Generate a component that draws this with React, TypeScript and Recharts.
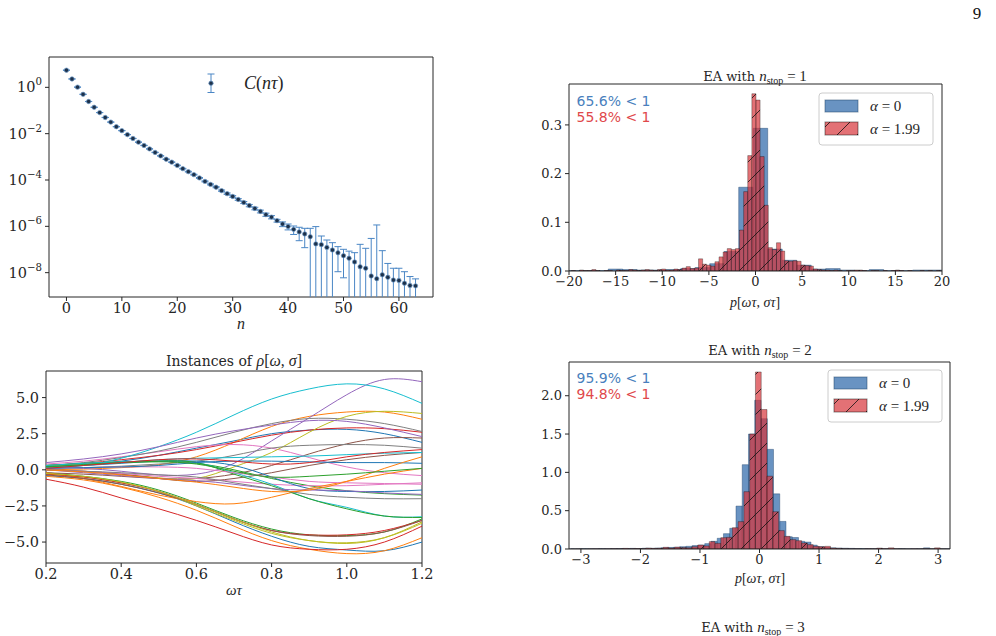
import React from 'react';
import {
  ScatterChart,
  Scatter,
  ErrorBar,
  LineChart,
  Line,
  ComposedChart,
  XAxis,
  YAxis,
  ReferenceArea,
} from 'recharts';

const SERIF = '"DejaVu Serif", serif';
const MATH = '"Liberation Serif", "DejaVu Serif", serif';
const SANS = '"DejaVu Sans", sans-serif';
const INK = '#262626';
const MINUS = '\u2212';
const TAB10 = ['#1f77b4', '#ff7f0e', '#2ca02c', '#d62728', '#9467bd', '#8c564b', '#e377c2', '#7f7f7f', '#bcbd22', '#17becf'];
const BLUE = '#2f6aab';
const BLUE_EDGE = '#1c3f66';
const RED = '#d8353a';

// ---------- C(n tau): mean and symmetric error for n = 0..63
const corrN = Array.from({ length: 64 }, (_, i) => i);
const corrValues = [
  5.5, 2.3, 1.02, 0.5, 0.245, 0.138, 0.0813, 0.05, 0.0316, 0.02,
  0.0135, 9.1e-3, 6.2e-3, 4.3e-3, 3.1e-3, 2.2e-3, 1.55e-3, 1.1e-3, 7.9e-4, 5.9e-4,
  4.27e-4, 3.09e-4, 2.29e-4, 1.7e-4, 1.23e-4, 8.7e-5, 6.46e-5, 4.9e-5, 3.47e-5, 2.57e-5,
  1.95e-5, 1.45e-5, 1.07e-5, 7.9e-6, 5.9e-6, 4.4e-6, 3.2e-6, 2.5e-6, 1.76e-6, 1.26e-6,
  9.8e-7, 7.4e-7, 5.75e-7, 4.7e-7, 3.55e-7, 1.74e-7, 1.62e-7, 1.23e-7, 9.5e-8, 7.2e-8,
  5.4e-8, 4.2e-8, 2.9e-8, 1.8e-8, 1.55e-8, 7.2e-9, 5.5e-9, 8.1e-9, 6.3e-9, 4.8e-9,
  4.6e-9, 3.5e-9, 2.8e-9, 2.7e-9,
];
const corrErrors = [
  0.02, 0.01, 0.005, 0.003, 0.0015, 0.001, 6e-4, 4e-4, 3e-4, 2e-4,
  1.5e-4, 1.1e-4, 8e-5, 6e-5, 5e-5, 4e-5, 3e-5, 2.4e-5, 1.9e-5, 1.5e-5,
  1.2e-5, 1e-5, 8e-6, 6.5e-6, 5.2e-6, 4.2e-6, 3.4e-6, 2.8e-6, 2.3e-6, 1.9e-6,
  1.6e-6, 1.3e-6, 1.1e-6, 9e-7, 7.5e-7, 6e-7, 5e-7, 4e-7, 2.4e-7, 2.9e-7,
  2.8e-7, 2.95e-7, 3.35e-7, 3.5e-7, 4.65e-7, 8.0e-7, 2.2e-7, 1.34e-7, 1.02e-7, 6.1e-8,
  4.8e-8, 4.3e-8, 4.4e-8, 1.49e-7, 9.7e-8, 2.93e-7, 1.14e-6, 8.1e-8, 1.87e-8, 1.07e-8,
  1.09e-8, 7.5e-9, 4.0e-9, 2.7e-9,
];

// ---------- instances of rho[omega, sigma] sampled on omega*tau
const omegaTau = [0.2, 0.3, 0.4, 0.5, 0.6, 0.7, 0.8, 0.9, 1.0, 1.1, 1.2];
const rhoInstances = [
  [0.2, 0.35, 0.6, 1.0, 1.5, 2.0, 2.5, 2.75, 2.8, 2.5, 1.9],
  [0.0, 0.05, 0.15, 0.35, 0.9, 1.9, 3.0, 3.7, 4.0, 4.0, 3.5],
  [-0.2, -0.45, -0.8, -1.4, -2.3, -3.3, -4.1, -4.5, -4.55, -4.3, -3.4],
  [0.3, 0.45, 0.7, 1.0, 1.4, 1.9, 2.4, 2.75, 2.9, 2.85, 2.6],
  [0.2, 0.1, -0.1, -0.35, -0.3, 0.45, 2.0, 3.6, 5.2, 6.25, 6.1],
  [-0.2, -0.3, -0.45, -0.6, -0.6, -0.3, 0.3, 1.1, 1.8, 2.2, 2.2],
  [0.4, 0.6, 0.9, 1.25, 1.6, 1.75, 1.5, 0.85, 0.2, -0.2, -0.4],
  [0.3, 0.5, 0.85, 1.3, 1.9, 2.6, 3.2, 3.55, 3.5, 3.2, 2.65],
  [0.0, -0.1, -0.3, -0.55, -0.6, 0.2, 1.2, 2.6, 3.7, 4.05, 3.9],
  [0.1, 0.3, 0.8, 1.6, 2.6, 3.8, 4.9, 5.6, 5.95, 5.6, 4.6],
  [-0.4, -0.6, -1.0, -1.6, -2.5, -3.6, -4.6, -5.3, -5.55, -5.6, -5.0],
  [-0.45, -0.7, -1.2, -1.9, -2.8, -3.9, -4.9, -5.5, -5.8, -5.6, -4.7],
  [0.3, 0.45, 0.55, 0.6, 0.45, 0.0, -0.6, -1.1, -1.45, -1.65, -1.75],
  [-0.65, -1.2, -1.95, -2.7, -3.5, -4.4, -5.2, -5.5, -5.5, -5.0, -3.9],
  [0.5, 0.75, 1.1, 1.6, 2.2, 2.7, 3.1, 3.4, 3.35, 2.9, 2.3],
  [0.0, -0.1, -0.3, -0.6, -0.8, -0.6, -0.2, 0.3, 0.7, 1.0, 1.2],
  [0.0, -0.1, -0.25, -0.45, -0.6, -0.8, -1.0, -1.1, -1.1, -1.0, -0.9],
  [0.1, 0.15, 0.25, 0.4, 0.6, 1.0, 1.5, 1.7, 1.75, 1.7, 1.5],
  [-0.3, -0.5, -0.9, -1.5, -2.5, -3.5, -4.4, -4.9, -5.1, -4.7, -3.6],
  [0.3, 0.45, 0.55, 0.6, 0.5, -0.2, -1.0, -2.0, -2.6, -3.2, -3.25],
  [0.2, 0.3, 0.45, 0.6, 0.6, 0.3, -0.5, -1.3, -1.5, -1.5, -1.4],
  [-0.2, -0.6, -1.15, -1.75, -2.2, -2.35, -1.9, -1.3, -0.8, -0.3, 0.1],
  [0.2, 0.35, 0.5, 0.6, 0.5, -0.3, -1.1, -2.0, -2.7, -3.2, -3.3],
  [-0.3, -0.5, -0.9, -1.5, -2.4, -3.4, -4.2, -4.5, -4.5, -4.2, -3.5],
  [0.0, -0.2, -0.4, -0.6, -0.75, -1.0, -1.3, -1.4, -1.45, -1.6, -1.7],
  [-0.35, -0.6, -1.0, -1.6, -2.4, -3.4, -4.2, -4.55, -4.6, -4.3, -3.5],
  [0.1, 0.15, 0.2, 0.2, 0.1, -0.2, -0.5, -0.8, -0.9, -0.95, -1.0],
  [0.0, -0.1, -0.2, -0.35, -0.5, -0.9, -1.3, -1.7, -1.9, -2.0, -2.0],
  [-0.25, -0.45, -0.85, -1.5, -2.4, -3.4, -4.3, -4.9, -5.05, -4.7, -3.7],
  [0.15, 0.3, 0.5, 0.7, 0.8, 0.85, 0.9, 0.95, 1.05, 1.15, 1.2],
  [0.1, 0.15, 0.2, 0.3, 0.5, 0.6, 0.6, 0.55, 0.5, 0.5, 0.45],
  [0.0, -0.15, -0.35, -0.6, -0.85, -1.2, -1.5, -1.4, -0.8, 0.1, 0.9],
  [0.2, 0.35, 0.5, 0.55, 0.4, -0.1, -0.5, -0.45, -0.3, -0.1, 0.1],
  [0.1, 0.3, 0.5, 0.7, 0.75, 0.6, 0.4, 0.5, 0.9, 1.2, 1.4],
];

// ---------- EA histograms (density), n_stop = 1
const ea1ZeroStart = -20.46;
const ea1ZeroWidth = 1.555;
const ea1Zero = [
  0.001, 0.001, 0.001, 0.004, 0.003, 0.002, 0.002, 0.003, 0.005, 0.007,
  0.015, 0.04, 0.172, 0.293, 0.045, 0.022, 0.012, 0.004, 0.005, 0.002,
  0.001, 0.003, 0.001, 0.001, 0.002, 0.002,
];
const ea1HighStart = -19.75;
const ea1HighWidth = 0.44;
const ea1High = [
  0.001, 0.0, 0.002, 0.001, 0.001, 0.003, 0.001, 0.0, 0.001, 0.001,
  0.0, 0.002, 0.001, 0.001, 0.003, 0.002, 0.001, 0.002, 0.003, 0.002,
  0.001, 0.003, 0.004, 0.002, 0.002, 0.004, 0.003, 0.006, 0.009, 0.005,
  0.006, 0.025, 0.014, 0.012, 0.01, 0.019, 0.029, 0.039, 0.046, 0.044,
  0.046, 0.084, 0.163, 0.237, 0.364, 0.351, 0.235, 0.135, 0.048, 0.044,
  0.058, 0.041, 0.021, 0.02, 0.021, 0.02, 0.012, 0.011, 0.01, 0.004,
  0.003, 0.002, 0.002, 0.001, 0.002, 0.001, 0.0, 0.001, 0.001, 0.002,
  0.002, 0.001, 0.0, 0.001, 0.001, 0.0, 0.001, 0.0, 0.001, 0.002,
  0.001, 0.0, 0.001, 0.0, 0.0, 0.001, 0.0, 0.001, 0.0, 0.001,
];
const ea1Below = [65.6, 55.8];

// ---------- EA histograms (density), n_stop = 2
const ea2ZeroStart = -3.23;
const ea2ZeroWidth = 0.105;
const ea2Zero = [
  0.002, 0.001, 0.003, 0.002, 0.002, 0.004, 0.003, 0.005, 0.006, 0.004,
  0.008, 0.006, 0.01, 0.008, 0.012, 0.016, 0.02, 0.022, 0.03, 0.035,
  0.045, 0.05, 0.07, 0.1, 0.14, 0.2, 0.27, 0.56, 1.1, 1.5,
  1.94, 1.7, 1.3, 0.72, 0.36, 0.16, 0.15, 0.1, 0.09, 0.05,
  0.03, 0.02, 0.015, 0.012, 0.01, 0.008, 0.006, 0.005, 0.004, 0.004,
  0.003, 0.002, 0.003, 0.004, 0.002, 0.002, 0.003, 0.015, 0.002, 0.001,
  0.002, 0.001,
];
const ea2HighStart = -3.172;
const ea2HighWidth = 0.097;
const ea2High = [
  0.001, 0.002, 0.001, 0.002, 0.003, 0.002, 0.003, 0.004, 0.003, 0.008,
  0.004, 0.006, 0.005, 0.012, 0.008, 0.01, 0.022, 0.012, 0.024, 0.018,
  0.016, 0.03, 0.052, 0.04, 0.096, 0.074, 0.148, 0.152, 0.278, 0.357,
  0.748, 1.5, 2.31, 1.82, 0.95, 0.487, 0.24, 0.165, 0.122, 0.109,
  0.078, 0.057, 0.035, 0.03, 0.035, 0.012, 0.008, 0.004, 0.003, 0.003,
  0.001, 0.004, 0.003, 0.012, 0.004, 0.015, 0.003, 0.002, 0.001, 0.003,
  0.002, 0.004, 0.002, 0.015, 0.002, 0.001,
];
const ea2Below = [95.9, 94.8];

type Bin = { x0: number; x1: number; h: number };
const toBins = (start: number, width: number, heights: number[]): Bin[] =>
  heights.map((h, i) => ({ x0: start + i * width, x1: start + (i + 1) * width, h }));

const signed = (v: number, digits: number) => (v < 0 ? MINUS : '') + Math.abs(v).toFixed(digits);

// log-axis clip floor: lower error bars below zero run off the bottom
const LOG_FLOOR = 1e-14;
const LOG_MIN = 8.9e-10;
const LOG_MAX = 20.4;

const corrData = corrN.map((n, i) => ({ n, c: corrValues[i], err: corrErrors[i] }));
const corrErrRange = (d: { c: number; err: number }) => [Math.min(d.err, d.c - LOG_FLOOR), d.err];

// correlator panel geometry
const CORR_W = 445;
const CORR_H = 340;
const CORR_MARGIN = { top: 57, right: 12, bottom: 3, left: 0 };
const CORR_YAXIS_W = 49;
const CORR_XAXIS_H = 40;

function LogTick(props: any) {
  const { x, y, payload } = props;
  const exp = Math.round(Math.log10(payload.value));
  return (
    <text x={x} y={y} dy={5} textAnchor="end" fontFamily={SERIF} fontSize={14.5} fill={INK}>
      10
      <tspan dy={-7} fontSize={10.2}>
        {exp < 0 ? MINUS + Math.abs(exp) : String(exp)}
      </tspan>
    </text>
  );
}

const CorrDot = (p: any) => (
  <circle cx={p.cx} cy={p.cy} r={2.2} fill="#1d314a" stroke="#6f9ccc" strokeWidth={0.7} />
);

function CorrelatorPanel() {
  const plotX = CORR_MARGIN.left + CORR_YAXIS_W;
  const plotY = CORR_MARGIN.top;
  const plotW = CORR_W - CORR_MARGIN.right - plotX;
  const plotH = CORR_H - CORR_MARGIN.bottom - CORR_XAXIS_H - plotY;
  return (
    <div className="corr-panel" style={{ position: 'absolute', left: 0, top: 0 }}>
      <style>{'.corr-panel [class*="errorBar"] { clip-path: url(#corrPlotClip); }'}</style>
      <ScatterChart width={CORR_W} height={CORR_H} margin={CORR_MARGIN}>
        <defs>
          <clipPath id="corrPlotClip" clipPathUnits="userSpaceOnUse">
            <rect x={plotX} y={plotY} width={plotW} height={plotH} />
          </clipPath>
        </defs>
        <XAxis
          type="number"
          dataKey="n"
          domain={[-3.15, 66.15]}
          allowDataOverflow
          ticks={[0, 10, 20, 30, 40, 50, 60]}
          height={CORR_XAXIS_H}
          axisLine={false}
          tickSize={4}
          tickMargin={2}
          tickLine={{ stroke: INK }}
          tick={{ fontFamily: SERIF, fontSize: 14.5, fill: INK }}
        />
        <YAxis
          type="number"
          dataKey="c"
          scale="log"
          domain={[LOG_MIN, LOG_MAX]}
          allowDataOverflow
          ticks={[1, 1e-2, 1e-4, 1e-6, 1e-8]}
          width={CORR_YAXIS_W}
          axisLine={false}
          tickSize={4}
          tickMargin={3}
          tickLine={{ stroke: INK }}
          tick={<LogTick />}
        />
        <Scatter data={corrData} isAnimationActive={false} shape={CorrDot}>
          <ErrorBar
            dataKey={corrErrRange as any}
            direction="y"
            width={3.5}
            stroke="#4a86c5"
            strokeWidth={1}
            isAnimationActive={false}
          />
        </Scatter>
        <ReferenceArea x1={-3.15} x2={66.15} y1={LOG_MIN} y2={LOG_MAX} fill="none" stroke={INK} strokeWidth={1} />
      </ScatterChart>
    </div>
  );
}

const rhoData = omegaTau.map((x, i) => {
  const row: Record<string, number> = { x };
  rhoInstances.forEach((curve, k) => {
    row[`r${k}`] = curve[i];
  });
  return row;
});

function RhoPanel() {
  return (
    <div style={{ position: 'absolute', left: 0, top: 330 }}>
      <LineChart width={445} height={290} data={rhoData} margin={{ top: 41, right: 23, bottom: 17, left: 0 }}>
        <XAxis
          type="number"
          dataKey="x"
          domain={[0.2, 1.2]}
          allowDataOverflow
          ticks={omegaTau.filter((_, i) => i % 2 === 0)}
          tickFormatter={(v: number) => v.toFixed(1)}
          height={40}
          axisLine={false}
          tickSize={4}
          tickMargin={2}
          tickLine={{ stroke: INK }}
          tick={{ fontFamily: SERIF, fontSize: 14.5, fill: INK }}
        />
        <YAxis
          type="number"
          domain={[-6.45, 6.84]}
          allowDataOverflow
          ticks={[-5, -2.5, 0, 2.5, 5]}
          tickFormatter={(v: number) => signed(v, 1)}
          width={46}
          axisLine={false}
          tickSize={4}
          tickMargin={3}
          tickLine={{ stroke: INK }}
          tick={{ fontFamily: SERIF, fontSize: 14.5, fill: INK }}
        />
        {rhoInstances.map((_, k) => (
          <Line
            key={k}
            type="natural"
            dataKey={`r${k}`}
            stroke={TAB10[k % 10]}
            strokeWidth={1}
            dot={false}
            isAnimationActive={false}
          />
        ))}
        <ReferenceArea x1={0.2} x2={1.2} y1={-6.45} y2={6.84} fill="none" stroke={INK} strokeWidth={1} />
      </LineChart>
    </div>
  );
}

type HistProps = {
  left: number;
  top: number;
  width: number;
  height: number;
  margin: { top: number; right: number; bottom: number; left: number };
  xDomain: [number, number];
  xTicks: number[];
  yDomain: [number, number];
  yTicks: number[];
  zero: Bin[];
  high: Bin[];
  hatchId: string;
};

function HistPanel(p: HistProps) {
  const rows = p.high.map((b) => ({ x: (b.x0 + b.x1) / 2, h: b.h }));
  return (
    <div style={{ position: 'absolute', left: p.left, top: p.top }}>
      <ComposedChart width={p.width} height={p.height} data={rows} margin={p.margin}>
        <defs>
          <pattern id={p.hatchId} patternUnits="userSpaceOnUse" width={20} height={20}>
            <rect width={20} height={20} fill={RED} fillOpacity={0.7} />
            <path d="M0,20 L20,0 M-2,2 L2,-2 M18,22 L22,18" stroke="#111" strokeWidth={0.8} />
          </pattern>
        </defs>
        <XAxis
          type="number"
          dataKey="x"
          domain={p.xDomain}
          allowDataOverflow
          ticks={p.xTicks}
          tickFormatter={(v: number) => signed(v, 0)}
          height={40}
          axisLine={false}
          tickSize={4}
          tickMargin={2}
          tickLine={{ stroke: INK }}
          tick={{ fontFamily: SERIF, fontSize: 13, fill: INK }}
        />
        <YAxis
          type="number"
          dataKey="h"
          domain={p.yDomain}
          allowDataOverflow
          ticks={p.yTicks}
          tickFormatter={(v: number) => v.toFixed(1)}
          width={49}
          axisLine={false}
          tickSize={4}
          tickMargin={3}
          tickLine={{ stroke: INK }}
          tick={{ fontFamily: SERIF, fontSize: 13, fill: INK }}
        />
        {p.zero.map((b, i) => (
          <ReferenceArea
            key={`z${i}`}
            x1={b.x0}
            x2={b.x1}
            y1={0}
            y2={b.h}
            fill={BLUE}
            fillOpacity={0.72}
            stroke={BLUE_EDGE}
            strokeOpacity={0.5}
            strokeWidth={0.8}
            ifOverflow="hidden"
          />
        ))}
        {p.high.map((b, i) => (
          <ReferenceArea
            key={`h${i}`}
            x1={b.x0}
            x2={b.x1}
            y1={0}
            y2={b.h}
            fill={`url(#${p.hatchId})`}
            fillOpacity={1}
            stroke="#000"
            strokeOpacity={0.45}
            strokeWidth={0.7}
            ifOverflow="hidden"
          />
        ))}
        <ReferenceArea
          x1={p.xDomain[0]}
          x2={p.xDomain[1]}
          y1={p.yDomain[0]}
          y2={p.yDomain[1]}
          fill="none"
          stroke={INK}
          strokeWidth={1}
        />
      </ComposedChart>
    </div>
  );
}

function EATitle({ x, y, n }: { x: number; y: number; n: number }) {
  return (
    <text x={x} y={y} textAnchor="middle" fontFamily={SERIF} fontSize={13} fill={INK}>
      EA with{' '}
      <tspan fontFamily={MATH} fontStyle="italic" fontSize={15}>
        n
      </tspan>
      <tspan fontFamily={MATH} fontSize={10} dy={3}>
        stop
      </tspan>
      <tspan fontFamily={MATH} fontSize={15} dy={-3}>
        {' = '}
        {n}
      </tspan>
    </text>
  );
}

function PLabel({ x, y }: { x: number; y: number }) {
  return (
    <text x={x} y={y} textAnchor="middle" fontFamily={MATH} fontSize={14} fill={INK}>
      <tspan fontStyle="italic">p</tspan>[<tspan fontStyle="italic">ωτ</tspan>, <tspan fontStyle="italic">στ</tspan>]
    </text>
  );
}

function AlphaLegend({ x, y, hatchId }: { x: number; y: number; hatchId: string }) {
  return (
    <g transform={`translate(${x},${y})`}>
      <rect x={0} y={0} width={114} height={52} rx={3} fill="#fff" fillOpacity={0.8} stroke="#cccccc" />
      <rect x={6} y={7} width={33} height={12} fill={BLUE} fillOpacity={0.72} stroke={BLUE_EDGE} strokeOpacity={0.5} />
      <rect x={6} y={29} width={33} height={13} fill={`url(#${hatchId})`} stroke="#000" strokeOpacity={0.45} />
      <text x={51} y={18} fontFamily={MATH} fontSize={15} fill={INK}>
        <tspan fontStyle="italic">α</tspan> = 0
      </text>
      <text x={51} y={41} fontFamily={MATH} fontSize={15} fill={INK}>
        <tspan fontStyle="italic">α</tspan> = 1.99
      </text>
    </g>
  );
}

function BelowText({ x, y, values }: { x: number; y: number; values: number[] }) {
  return (
    <g fontFamily={SANS} fontSize={14}>
      <text x={x} y={y} fill="#4a7fbd">{`${values[0].toFixed(1)}% < 1`}</text>
      <text x={x} y={y + 15.7} fill="#e0484b">{`${values[1].toFixed(1)}% < 1`}</text>
    </g>
  );
}

function Annotations() {
  return (
    <svg width={996} height={636} style={{ position: 'absolute', left: 0, top: 0, pointerEvents: 'none' }}>
      <defs>
        <pattern id="legendHatch" patternUnits="userSpaceOnUse" width={20} height={20}>
          <rect width={20} height={20} fill={RED} fillOpacity={0.7} />
          <path d="M0,20 L20,0 M-2,2 L2,-2 M18,22 L22,18" stroke="#111" strokeWidth={0.8} />
        </pattern>
      </defs>

      <text x={977} y={18.5} textAnchor="middle" fontFamily={MATH} fontSize={17} fill="#111">
        9
      </text>

      {/* correlator legend */}
      <g stroke="#4a86c5" strokeWidth={1}>
        <line x1={211} y1={74} x2={211} y2={92.5} />
        <line x1={207.5} y1={74} x2={214.5} y2={74} />
        <line x1={207.5} y1={92.5} x2={214.5} y2={92.5} />
      </g>
      <circle cx={211} cy={83.2} r={2.2} fill="#1d314a" stroke="#6f9ccc" strokeWidth={0.7} />
      <text x={244} y={89} fontFamily={MATH} fontSize={18} fill={INK}>
        <tspan fontStyle="italic">C</tspan>(<tspan fontStyle="italic">nτ</tspan>)
      </text>
      <text x={241} y={329} textAnchor="middle" fontFamily={MATH} fontStyle="italic" fontSize={16} fill={INK}>
        n
      </text>

      {/* rho panel */}
      <text x={234} y={366} textAnchor="middle" fontFamily={SERIF} fontSize={14} fill={INK}>
        Instances of{' '}
        <tspan fontFamily={MATH} fontSize={16}>
          <tspan fontStyle="italic">ρ</tspan>[<tspan fontStyle="italic">ω</tspan>, <tspan fontStyle="italic">σ</tspan>]
        </tspan>
      </text>
      <text x={234} y={595} textAnchor="middle" fontFamily={MATH} fontStyle="italic" fontSize={15} fill={INK}>
        ωτ
      </text>

      {/* EA n_stop = 1 */}
      <EATitle x={755} y={80.7} n={1} />
      <BelowText x={576.5} y={106} values={ea1Below} />
      <AlphaLegend x={819} y={93} hatchId="legendHatch" />
      <PLabel x={755} y={307} />

      {/* EA n_stop = 2 */}
      <EATitle x={760} y={355} n={2} />
      <BelowText x={576.5} y={383} values={ea2Below} />
      <AlphaLegend x={828} y={370} hatchId="legendHatch" />
      <PLabel x={760} y={583} />

      {/* next panel title, running into the page edge */}
      <EATitle x={753} y={632} n={3} />
    </svg>
  );
}

export default function App() {
  return (
    <div
      style={{
        position: 'absolute',
        left: 0,
        top: 0,
        width: 996,
        height: 636,
        background: '#fff',
        overflow: 'hidden',
      }}
    >
      <CorrelatorPanel />
      <RhoPanel />
      <HistPanel
        left={520}
        top={50}
        width={430}
        height={270}
        margin={{ top: 34, right: 8, bottom: 9, left: 0 }}
        xDomain={[-20, 20]}
        xTicks={[-20, -15, -10, -5, 0, 5, 10, 15, 20]}
        yDomain={[0, 0.384]}
        yTicks={[0, 0.1, 0.2, 0.3]}
        zero={toBins(ea1ZeroStart, ea1ZeroWidth, ea1Zero)}
        high={toBins(ea1HighStart, ea1HighWidth, ea1High)}
        hatchId="hatchEA1"
      />
      <HistPanel
        left={520}
        top={330}
        width={440}
        height={270}
        margin={{ top: 32, right: 10, bottom: 11, left: 0 }}
        xDomain={[-3.2, 3.2]}
        xTicks={[-3, -2, -1, 0, 1, 2, 3]}
        yDomain={[0, 2.44]}
        yTicks={[0, 0.5, 1, 1.5, 2]}
        zero={toBins(ea2ZeroStart, ea2ZeroWidth, ea2Zero)}
        high={toBins(ea2HighStart, ea2HighWidth, ea2High)}
        hatchId="hatchEA2"
      />
      <Annotations />
    </div>
  );
}
